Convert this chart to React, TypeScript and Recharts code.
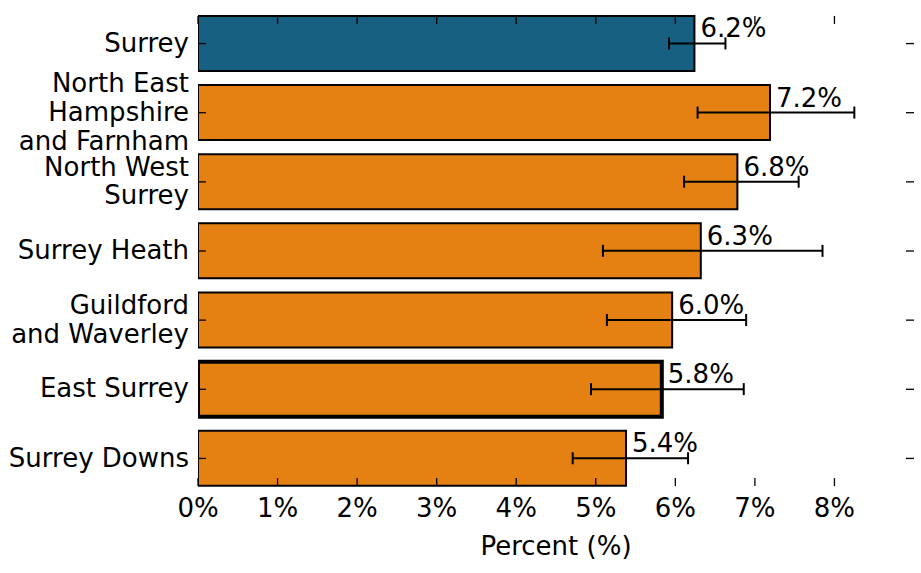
import React from 'react';
import { BarChart, Bar, XAxis, YAxis, Cell, ErrorBar, LabelList } from 'recharts';

// values
const areas = [
  'Surrey',
  'North East\nHampshire\nand Farnham',
  'North West\nSurrey',
  'Surrey Heath',
  'Guildford\nand Waverley',
  'East Surrey',
  'Surrey Downs',
];
const percent = [6.24, 7.19, 6.78, 6.32, 5.96, 5.83, 5.38];
const lowerCI = [5.92, 6.28, 6.11, 5.09, 5.14, 4.94, 4.71];
const upperCI = [6.63, 8.25, 7.55, 7.85, 6.89, 6.86, 6.16];
const xTicks = [0, 1, 2, 3, 4, 5, 6, 7, 8];

const BLUE = '#176082';
const ORANGE = '#e58013';
const FONT = 'DejaVu Sans';
const FS = 26;

const W = 921;
const H = 573;
const MARGIN = { top: 9, right: 7, bottom: 0, left: 0 };
const Y_AXIS_W = 198;
const X_AXIS_H = 80;
const PLOT_LEFT = MARGIN.left + Y_AXIS_W;
const PLOT_RIGHT = W - MARGIN.right;
const PLOT_TOP = MARGIN.top;
const PLOT_BOTTOM = H - MARGIN.bottom - X_AXIS_H;
// matplotlib-style limits sit at the outer bar edges (bar height 0.8)
const BAND = (PLOT_BOTTOM - PLOT_TOP) / areas.length;
const AX_TOP = PLOT_TOP + BAND * 0.1;
const AX_BOTTOM = PLOT_BOTTOM - BAND * 0.1;
const TICK = 8;

const data = areas.map((name, i) => ({
  name,
  value: percent[i],
  err: [percent[i] - lowerCI[i], upperCI[i] - percent[i]],
}));

function XTick(props: any) {
  const { x, payload } = props;
  return (
    <g>
      <line x1={x} x2={x} y1={AX_BOTTOM} y2={AX_BOTTOM - TICK} stroke="#000" strokeWidth={1.3} />
      <line x1={x} x2={x} y1={AX_TOP} y2={AX_TOP + TICK} stroke="#000" strokeWidth={1.3} />
      <text x={x} y={517} textAnchor="middle" fontSize={FS} fontFamily={FONT} fill="#000">
        {payload.value + '%'}
      </text>
    </g>
  );
}

function YTick(props: any) {
  const { y, payload } = props;
  const lines = String(payload.value).split('\n');
  const n = lines.length;
  return (
    <g>
      <line x1={PLOT_LEFT} x2={PLOT_LEFT + TICK} y1={y} y2={y} stroke="#000" strokeWidth={1.3} />
      <line x1={PLOT_RIGHT - TICK} x2={PLOT_RIGHT} y1={y} y2={y} stroke="#000" strokeWidth={1.3} />
      <text textAnchor="end" fontSize={FS} fontFamily={FONT} fill="#000">
        {lines.map((l, i) => (
          <tspan key={i} x={PLOT_LEFT - 9} y={y + 8.2 + (i - (n - 1) / 2) * 28.8}>
            {l}
          </tspan>
        ))}
      </text>
    </g>
  );
}

function ValueLabel(props: any) {
  const { x, y, width, height, value } = props;
  return (
    <text x={x + width + 6} y={y + height / 2 - 6} fontSize={FS} fontFamily={FONT} fill="#000">
      {Number(value).toFixed(1) + '%'}
    </text>
  );
}

export default function App() {
  return (
    <div style={{ position: 'absolute', left: 0, top: 0, background: '#fff' }}>
      <BarChart width={W} height={H} data={data} layout="vertical" margin={MARGIN} barCategoryGap="10%">
        <XAxis
          type="number"
          domain={[0, 9]}
          ticks={xTicks}
          allowDataOverflow
          axisLine={false}
          tickLine={false}
          height={X_AXIS_H}
          tick={<XTick />}
          label={{
            value: 'Percent (%)',
            position: 'insideBottom',
            offset: 18,
            fontSize: FS,
            fontFamily: FONT,
            fill: '#000',
          }}
        />
        <YAxis
          type="category"
          dataKey="name"
          width={Y_AXIS_W}
          axisLine={false}
          tickLine={false}
          interval={0}
          tick={<YTick />}
        />
        <Bar dataKey="value" isAnimationActive={false} stroke="#000" strokeWidth={2}>
          {data.map((d, i) => (
            <Cell
              key={d.name}
              fill={i === 0 ? BLUE : ORANGE}
              strokeWidth={d.name === 'East Surrey' ? 4 : 2}
            />
          ))}
          <ErrorBar dataKey="err" direction="x" width={6} stroke="#000" strokeWidth={2} />
          <LabelList dataKey="value" content={<ValueLabel />} />
        </Bar>
      </BarChart>
    </div>
  );
}
